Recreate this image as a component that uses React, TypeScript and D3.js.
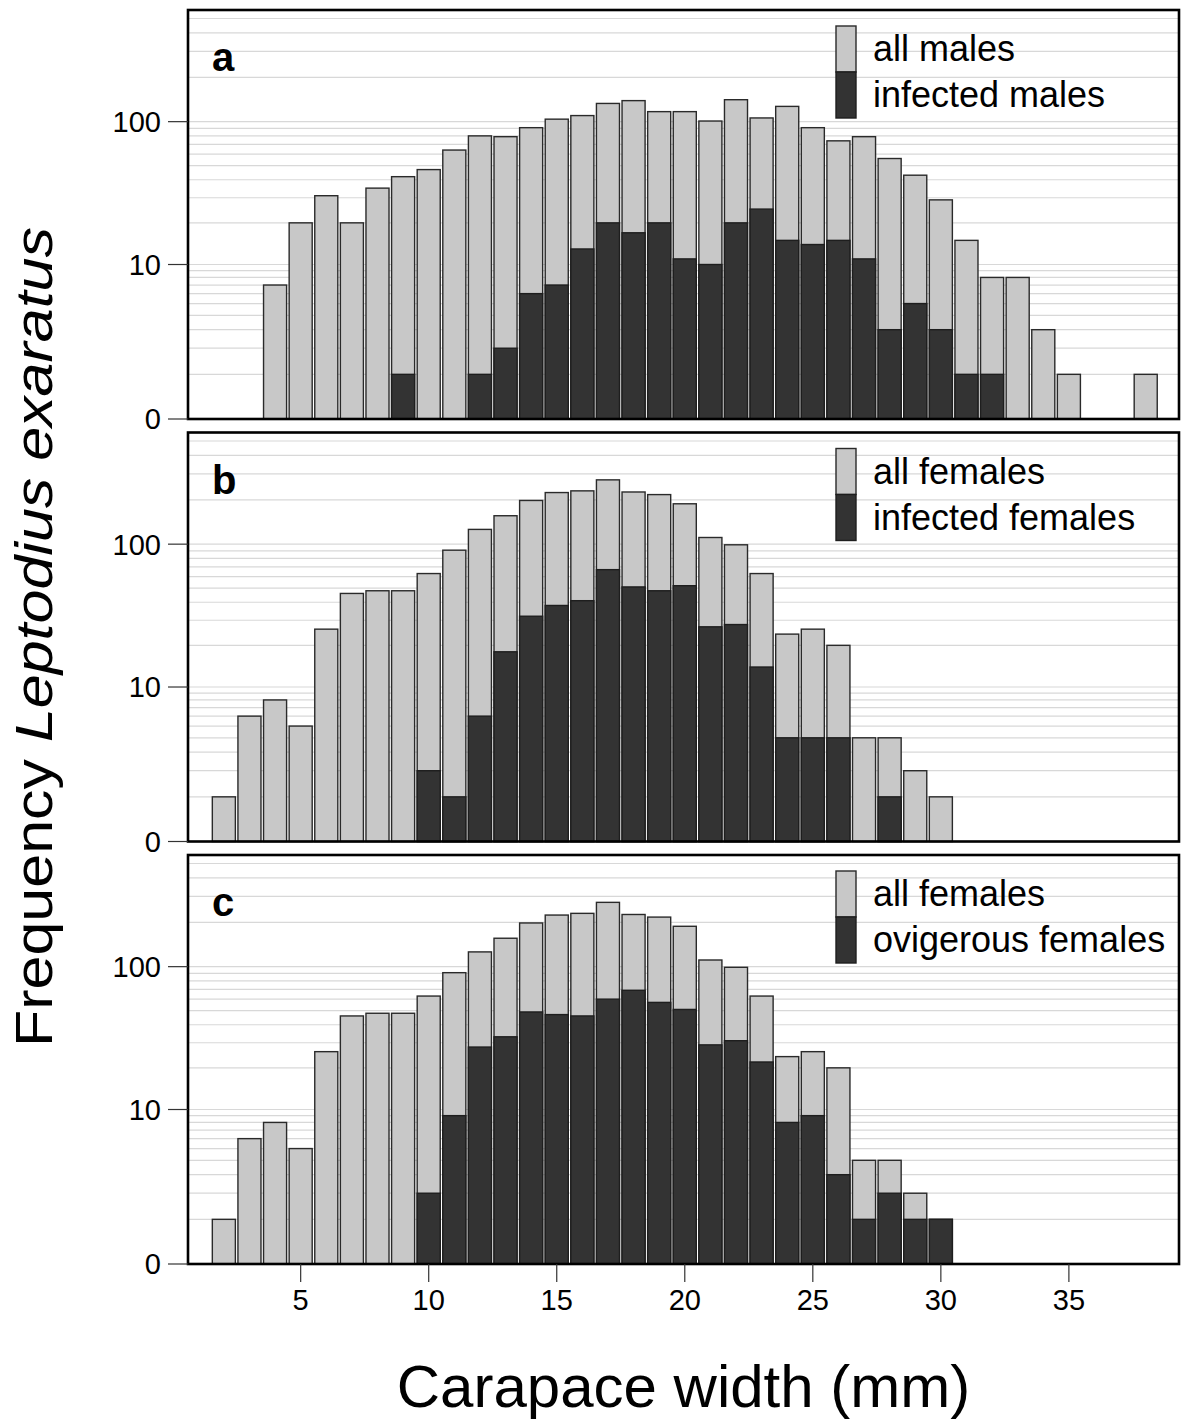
import * as d3 from 'd3';

// carapace width classes (mm)
const WIDTHS = [1, 2, 3, 4, 5, 6, 7, 8, 9, 10, 11, 12, 13, 14, 15, 16, 17, 18, 19, 20,
  21, 22, 23, 24, 25, 26, 27, 28, 29, 30, 31, 32, 33, 34, 35, 36, 37, 38];

const ALL_MALES = [0, 0, 0, 7, 20, 31, 20, 35, 42, 47, 64, 80, 79, 91, 104, 110, 133, 139, 117, 117,
  101, 141, 106, 127, 91, 74, 79, 56, 43, 29, 15, 8, 8, 3, 1, 0, 0, 1];
const INFECTED_MALES = [0, 0, 0, 0, 0, 0, 0, 0, 1, 0, 0, 1, 2, 6, 7, 13, 20, 17, 20, 11,
  10, 20, 25, 15, 14, 15, 11, 3, 5, 3, 1, 1, 0, 0, 0, 0, 0, 0];
const ALL_FEMALES = [0, 1, 6, 8, 5, 26, 46, 48, 48, 63, 91, 126, 156, 198, 224, 230, 273, 226, 217, 188,
  111, 99, 63, 24, 26, 20, 4, 4, 2, 1, 0, 0, 0, 0, 0, 0, 0, 0];
const INFECTED_FEMALES = [0, 0, 0, 0, 0, 0, 0, 0, 0, 2, 1, 6, 18, 32, 38, 41, 67, 51, 48, 52,
  27, 28, 14, 4, 4, 4, 0, 1, 0, 0, 0, 0, 0, 0, 0, 0, 0, 0];
const OVIGEROUS_FEMALES = [0, 0, 0, 0, 0, 0, 0, 0, 0, 2, 9, 28, 33, 49, 47, 46, 60, 69, 57, 51,
  29, 31, 22, 8, 9, 3, 1, 2, 1, 1, 0, 0, 0, 0, 0, 0, 0, 0];

const Y_TICKS = [0, 10, 100];
const GRID_VALUES = [1, 2, 3, 4, 5, 6, 7, 8, 9, 10, 20, 30, 40, 50, 60, 70, 80, 90, 100, 200, 300, 400, 500];
const X_TICKS = [5, 10, 15, 20, 25, 30, 35];

const PANELS = [
  { letter: 'a', total: ALL_MALES, part: INFECTED_MALES, labels: ['all males', 'infected males'] },
  { letter: 'b', total: ALL_FEMALES, part: INFECTED_FEMALES, labels: ['all females', 'infected females'] },
  { letter: 'c', total: ALL_FEMALES, part: OVIGEROUS_FEMALES, labels: ['all females', 'ovigerous females'] },
];

const W = 1182;
const H = 1421;
const LEFT = 188;
const RIGHT = 1179;
const PANEL_TOPS = [10, 432.5, 855];
const PANEL_H = 409;
const FONT = '"Liberation Sans", Arial, Helvetica, sans-serif';
const LIGHT = '#c8c8c8';
const DARK = '#333333';

const tr = (v: number) => Math.log10(1 + v);

const x = d3.scaleLinear().domain([0.6, 39.3]).range([LEFT, RIGHT]);
const barW = 0.9 * (x(1) - x(0));

const Panel = ({ panel, top, last }: any) => {
  const y = d3.scaleLinear().domain([0, 2.757]).range([top + PANEL_H, top]);
  const bottom = top + PANEL_H;
  return (
    <g>
      {/* grid */}
      {GRID_VALUES.map(v => (
        <line key={v} x1={LEFT} x2={RIGHT} y1={y(tr(v))} y2={y(tr(v))} stroke="#d8d8d8" strokeWidth={1.2} />
      ))}

      {/* bars */}
      {WIDTHS.map((w, i) => panel.total[i] > 0 && (
        <rect key={'t' + w} x={x(w) - barW / 2} y={y(tr(panel.total[i]))} width={barW}
          height={bottom - y(tr(panel.total[i]))} fill={LIGHT} stroke="#2a2a2a" strokeWidth={1.4} />
      ))}
      {WIDTHS.map((w, i) => panel.part[i] > 0 && (
        <rect key={'p' + w} x={x(w) - barW / 2} y={y(tr(panel.part[i]))} width={barW}
          height={bottom - y(tr(panel.part[i]))} fill={DARK} stroke="#1e1e1e" strokeWidth={1.4} />
      ))}

      {/* frame */}
      <rect x={LEFT} y={top} width={RIGHT - LEFT} height={PANEL_H} fill="none" stroke="#000" strokeWidth={2.6} />

      {/* y axis */}
      {Y_TICKS.map(v => (
        <g key={v}>
          <line x1={168} x2={LEFT} y1={y(tr(v))} y2={y(tr(v))} stroke="#333" strokeWidth={1.2} />
          <text x={161} y={y(tr(v))} dy="0.36em" textAnchor="end" fontSize={29} fontFamily={FONT}>{v}</text>
        </g>
      ))}

      {/* x axis only on bottom panel */}
      {last && X_TICKS.map(t => (
        <g key={t}>
          <line x1={x(t)} x2={x(t)} y1={bottom} y2={bottom + 18} stroke="#333" strokeWidth={1.2} />
          <text x={x(t)} y={1310} textAnchor="middle" fontSize={29} fontFamily={FONT}>{t}</text>
        </g>
      ))}

      {/* panel letter */}
      <text x={212} y={top + 61} fontSize={40} fontWeight="bold" fontFamily={FONT}>{panel.letter}</text>

      {/* legend */}
      <rect x={836} y={top + 16} width={20} height={46} fill={LIGHT} stroke="#2a2a2a" strokeWidth={1.4} />
      <rect x={836} y={top + 62} width={20} height={46} fill={DARK} stroke="#1e1e1e" strokeWidth={1.4} />
      <text x={873} y={top + 51} fontSize={36} fontFamily={FONT}>{panel.labels[0]}</text>
      <text x={873} y={top + 97} fontSize={36} fontFamily={FONT}>{panel.labels[1]}</text>
    </g>
  );
};

export default function App() {
  const yMid = (PANEL_TOPS[0] + PANEL_TOPS[2] + PANEL_H) / 2;
  return (
    <div style={{ position: 'absolute', left: 0, top: 0 }}>
      <svg width={W} height={H} style={{ display: 'block', background: '#fff' }}>
        {PANELS.map((p, i) => (
          <Panel key={p.letter} panel={p} top={PANEL_TOPS[i]} last={i === PANELS.length - 1} />
        ))}

        <text transform={`translate(52,${yMid}) rotate(-90)`} textAnchor="middle" fontSize={51}
          fontFamily={FONT} textLength={820} lengthAdjust="spacingAndGlyphs">
          Frequency <tspan fontStyle="italic">Leptodius exaratus</tspan>
        </text>

        <text x={(LEFT + RIGHT) / 2} y={1407} textAnchor="middle" fontSize={60} fontFamily={FONT}>
          Carapace width (mm)
        </text>
      </svg>
    </div>
  );
}
